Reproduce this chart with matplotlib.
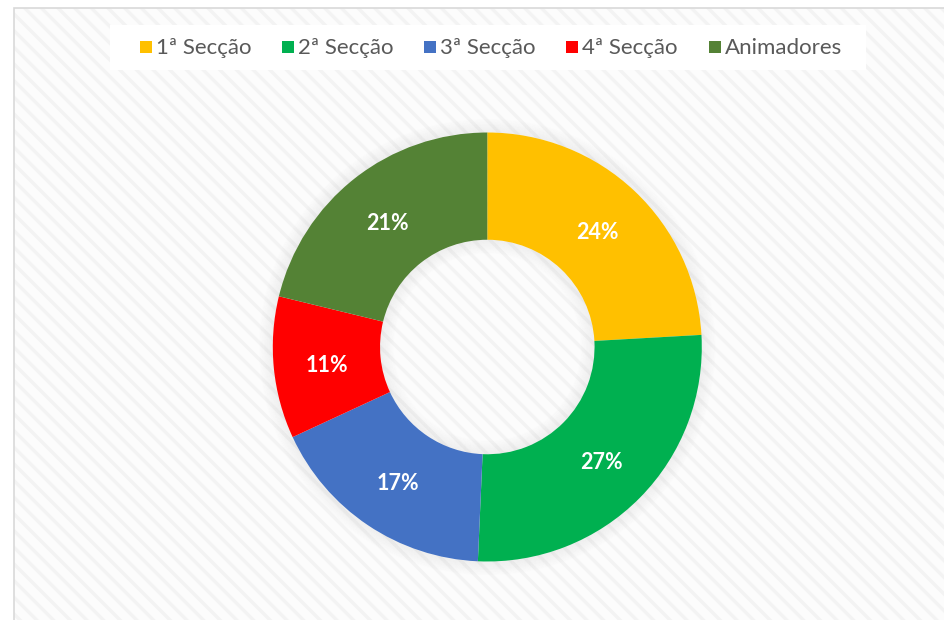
import matplotlib
matplotlib.use("Agg")
import matplotlib.pyplot as plt
from matplotlib.patches import Rectangle, Wedge
import numpy as np

categories = ["1ª Secção", "2ª Secção", "3ª Secção", "4ª Secção", "Animadores"]
values = [24.1, 26.6, 17.4, 10.7, 21.2]   # percent (labels shown rounded)
colors = ["#FFC000", "#00B050", "#4472C4", "#FF0000", "#548235"]

plt.rcParams['font.family'] = ['Lato', 'DejaVu Sans']
plt.rcParams['hatch.color'] = '#f3f3f3'
plt.rcParams['hatch.linewidth'] = 2.4

W, H = 945, 620
fig = plt.figure(figsize=(9.45, 6.2), dpi=100)
ax = fig.add_axes([0, 0, 1, 1])

cx, cy = 487.3, H - 347
R = 214.5
w = R * 0.5

wedges, _ = ax.pie(values, colors=colors, startangle=90, counterclock=False,
                   center=(cx, cy), radius=R,
                   wedgeprops=dict(width=w, edgecolor='none', zorder=3), frame=True)
ax.set_xlim(0, W)
ax.set_ylim(0, H)
ax.set_aspect('equal')
ax.axis('off')

# chart area with hatch background
ax.add_patch(Rectangle((14, -10), W, H - 8 + 10, facecolor='#fcfcfc',
                       edgecolor='none', zorder=0))
ax.add_patch(Rectangle((14, -10), W, H - 8 + 10, facecolor='none',
                       edgecolor='#f3f3f3', hatch='\\\\', lw=0, zorder=0.5))
ax.add_patch(Rectangle((14, -10), W, H - 8 + 10, facecolor='none',
                       edgecolor='#d9d9d9', lw=1.2, zorder=0.6))

# soft shadow
for i in range(14):
    a = 0.06 * (1 - i / 14)
    ax.add_patch(Wedge((cx, cy), R + 1 + i, 0, 360, width=1.5, facecolor='#707070',
                       edgecolor='none', alpha=a, zorder=1))
    ax.add_patch(Wedge((cx, cy), R - w - i + 0.5, 0, 360, width=1.5, facecolor='#707070',
                       edgecolor='none', alpha=a, zorder=1))

total = sum(values)
start = 90.0
for v in values:
    ang = start - v / total * 360 / 2
    start -= v / total * 360
    rm = R - w / 2
    x = cx + rm * np.cos(np.radians(ang))
    y = cy + rm * np.sin(np.radians(ang)) - 2.5
    ax.text(x, y, f"{v / total * 100:.0f}%", ha='center', va='center', color='white',
            fontsize=15.5, fontweight='bold', zorder=5)

# legend
ax.add_patch(Rectangle((110, H - 70), 756, 45, facecolor='white', edgecolor='none', zorder=2))
lx = [140, 282, 424, 566, 709]
ly = H - 47
for x0, lab, c in zip(lx, categories, colors):
    ax.add_patch(Rectangle((x0, ly - 6), 12, 12, facecolor=c, edgecolor='none', zorder=3))
    ax.text(x0 + 16, ly - 1, lab, ha='left', va='center', color='#595959',
            fontsize=16, zorder=3)

fig.savefig("out.png", dpi=100)
